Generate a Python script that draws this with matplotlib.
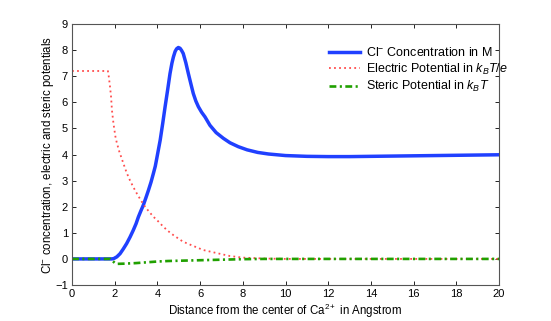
import matplotlib
matplotlib.use("Agg")
import matplotlib.pyplot as plt

plt.rcParams['font.family'] = ['Liberation Sans', 'DejaVu Sans']
plt.rcParams['mathtext.fontset'] = 'custom'
plt.rcParams['mathtext.rm'] = 'Liberation Sans'
plt.rcParams['mathtext.it'] = 'Liberation Sans:italic'

# Cl- concentration (M)
x_cl = [0, 1, 1.85, 1.95, 2.1, 2.25, 2.4, 2.56, 2.72, 2.87, 3.0, 3.11, 3.22,
        3.34, 3.46, 3.58, 3.7, 3.81, 3.9, 3.97, 4.05, 4.13, 4.25, 4.36, 4.48,
        4.59, 4.68, 4.75, 4.83, 4.9, 4.98, 5.06, 5.13, 5.21, 5.33, 5.45, 5.57,
        5.68, 5.8, 5.92, 6.07, 6.23, 6.46, 6.75, 7.09, 7.4, 7.79, 8.2, 8.7,
        9.2, 10, 11, 12, 13, 14, 16, 18, 20]
cl = [0, 0, 0, 0.01, 0.08, 0.2, 0.38, 0.59, 0.84, 1.1, 1.35, 1.61, 1.83,
      2.06, 2.34, 2.63, 2.94, 3.27, 3.55, 3.85, 4.2, 4.55, 5.2, 5.83, 6.48,
      7.1, 7.5, 7.74, 7.95, 8.05, 8.1, 8.07, 7.99, 7.87, 7.52, 7.1, 6.7,
      6.34, 6.05, 5.83, 5.62, 5.44, 5.12, 4.84, 4.62, 4.45, 4.3, 4.18, 4.08,
      4.02, 3.96, 3.93, 3.92, 3.92, 3.93, 3.95, 3.97, 3.99]

# electric potential (kBT/e)
x_el = [0, 1, 1.68, 1.72, 1.78, 1.83, 1.87, 1.94, 2.03, 2.09, 2.2, 2.41, 2.56,
        2.72, 2.88, 3.04, 3.23, 3.43, 3.62, 3.82, 4.0, 4.2, 4.45, 4.75, 5.2,
        5.7, 6.15, 6.8, 7.4, 8.0, 9, 10, 12, 14, 16, 18, 20]
el = [7.2, 7.2, 7.2, 7.0, 6.6, 6.2, 5.7, 5.2, 4.7, 4.48, 4.15, 3.65, 3.3,
      3.0, 2.74, 2.5, 2.24, 1.99, 1.8, 1.61, 1.47, 1.3, 1.1, 0.91, 0.66,
      0.49, 0.34, 0.22, 0.11, 0.05, 0.015, 0, 0, 0, 0, 0, 0]

# steric potential (kBT)
x_st = [0, 1, 1.8, 1.9, 2.0, 2.1, 2.5, 3.0, 3.5, 4.0, 4.5, 5.0, 6.0, 7.0,
        8.0, 9, 10, 12, 14, 16, 18, 20]
st = [0, 0, 0, -0.08, -0.15, -0.19, -0.18, -0.16, -0.13, -0.1, -0.08, -0.07,
      -0.05, -0.03, -0.01, 0, 0, 0, 0, 0, 0, 0]

fig = plt.figure(figsize=(5.51, 3.21), dpi=100)
ax = fig.add_axes([0.1307, 0.1121, 0.7749, 0.8131])

ax.plot(x_cl, cl, color='#2040ff', lw=2.5, solid_joinstyle='round',
        label='Cl$^{-}$ Concentration in M')
ax.plot(x_el, el, color='#ff4d4d', lw=1.3, linestyle=(0, (1, 1.8)),
        label='Electric Potential in $k_B$$T/e$')
ax.plot(x_st, st, color='#20a000', lw=1.9, linestyle=(0, (2.6, 1.3, 0.8, 1.3)),
        label='Steric Potential in $k_B$$T$')

ax.set_xlim(0, 20)
ax.set_ylim(-1, 9)
ax.set_xticks(range(0, 21, 2))
ax.set_yticks(range(-1, 10))
ax.tick_params(direction='in', length=3, width=0.6, labelsize=8,
               top=True, right=True, pad=3)
for s in ax.spines.values():
    s.set_linewidth(0.8)
    s.set_color('#555555')

ax.set_xlabel('Distance from the center of Ca$^{2+}$ in Angstrom', fontsize=8.3, labelpad=2)
ax.set_ylabel('Cl$^{-}$ concentration, electric and steric potentials', fontsize=8.3, labelpad=-1)

ax.legend(loc='upper left', bbox_to_anchor=(0.602, 0.915), frameon=False, fontsize=9,
          borderaxespad=0, borderpad=0, handlelength=2.5, handletextpad=0.45,
          labelspacing=0.2)

fig.savefig('out.png', dpi=100, facecolor='white')
